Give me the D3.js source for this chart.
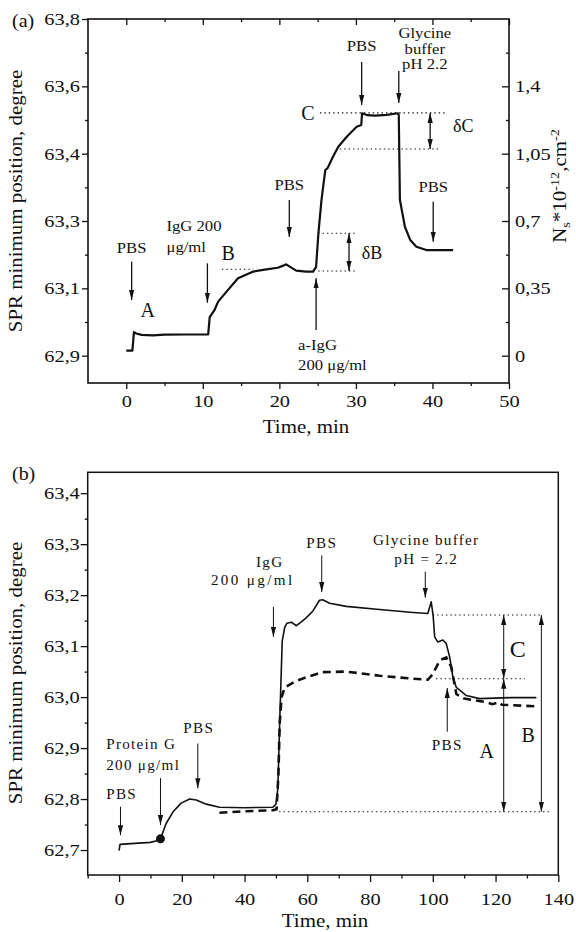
<!DOCTYPE html>
<html>
<head>
<meta charset="utf-8">
<script src="https://cdn.jsdelivr.net/npm/d3@7"></script>
<style>
  body { margin: 0; background: #fff; }
  svg text { font-family: 'Liberation Serif', 'Times New Roman', serif; fill: #111; }
</style>
</head>
<body>
<svg id="chart" width="576" height="932"></svg>
<script>
// ---- panel (a) data: time (min) vs surface concentration (right axis units)
var timeA = [0, 0.8, 1.0, 1.3, 2, 3.5, 5, 8, 10.7, 10.9, 11.5, 12.0, 13.1, 14.6, 16.6, 18.3, 19.8, 20.5, 20.9, 21.4, 22.2, 23.5, 24.4, 24.8, 25.1, 25.5, 26.0, 26.3, 27.0, 27.7, 28.8, 30.1, 30.7, 30.8, 31.5, 32.5, 34, 35.5, 35.6, 35.75, 36.4, 37.1, 37.9, 39.2, 42.7]
var nsA = [0.026, 0.026, 0.122, 0.115, 0.108, 0.106, 0.109, 0.110, 0.111, 0.200, 0.235, 0.281, 0.333, 0.402, 0.437, 0.449, 0.457, 0.468, 0.475, 0.462, 0.442, 0.437, 0.437, 0.462, 0.636, 0.809, 0.965, 0.975, 1.034, 1.086, 1.138, 1.190, 1.199, 1.260, 1.250, 1.248, 1.252, 1.260, 1.250, 0.809, 0.670, 0.601, 0.566, 0.549, 0.549]

var xTicksA = [0, 10, 20, 30, 40, 50]
var xMinorA = [5, 15, 25, 35, 45]
var leftTicksA = [0, 0.35, 0.7, 1.05, 1.4, 1.75]
var leftTickLabelsA = ['62,9', '63,1', '63,3', '63,4', '63,6', '63,8']
var rightTicksA = [0, 0.35, 0.7, 1.05, 1.4]
var rightTickLabelsA = ['0', '0,35', '0,7', '1,05', '1,4']
var yMinorA = [0.175, 0.525, 0.875, 1.225, 1.575]

// ---- panel (b) data
var timeB = [0, 0.3, 5, 10, 12, 13.2, 15.0, 17.2, 19.8, 22.5, 24.6, 27.8, 32.0, 40, 49.0, 50.0, 50.6, 51.2, 51.7, 52.0, 52.8, 53.5, 54.9, 56.5, 58, 59.7, 61.8, 63.9, 64.9, 67.1, 72.4, 83, 93.7, 98.4, 99.5, 100.1, 100.6, 101.6, 103.2, 104.3, 105.4, 106.4, 107.5, 110.7, 114.9, 125, 133]
var solidB = [62.699, 62.711, 62.713, 62.715, 62.718, 62.722, 62.752, 62.775, 62.792, 62.800, 62.798, 62.790, 62.784, 62.783, 62.784, 62.790, 62.820, 62.950, 63.050, 63.110, 63.137, 63.145, 63.147, 63.140, 63.147, 63.156, 63.169, 63.190, 63.191, 63.184, 63.178, 63.172, 63.166, 63.164, 63.187, 63.160, 63.118, 63.108, 63.112, 63.105, 63.078, 63.039, 63.019, 63.003, 62.997, 62.999, 62.999]
var timeBDash = [32.0, 40, 49, 50.2, 50.8, 51.2, 51.8, 52.8, 56.5, 59.7, 62.8, 64.9, 72.4, 83, 93.7, 98.4, 100, 102.2, 104.3, 105.9, 107.5, 110, 117, 119, 121, 122, 125.7, 132.7]
var dashB = [62.773, 62.776, 62.778, 62.780, 62.850, 62.950, 63.000, 63.019, 63.032, 63.039, 63.045, 63.049, 63.050, 63.042, 63.036, 63.034, 63.045, 63.072, 63.078, 63.059, 63.006, 62.997, 62.990, 62.986, 62.990, 62.985, 62.984, 62.982]

var xTicksB = [0, 20, 40, 60, 80, 100, 120, 140]
var xMinorB = [-10, 10, 30, 50, 70, 90, 110, 130]
var yTicksB = [62.7, 62.8, 62.9, 63.0, 63.1, 63.2, 63.3, 63.4]
var yMinorB = [62.75, 62.85, 62.95, 63.05, 63.15, 63.25, 63.35]

// annotations, in data units: [t, from, to]
var arrowsA = [[0.7, 0.489, 0.289], [10.6, 0.480, 0.275], [21.3, 0.809, 0.617], [24.8, 0.134, 0.402],
  [30.75, 1.526, 1.303], [35.6, 1.480, 1.313], [40.1, 0.800, 0.592]]
var bothArrowsA = [[29.1, 0.636, 0.440], [39.7, 1.262, 1.074]]
var dottedA = [[12.5, 16.6, 0.449], [25.07, 29.9, 0.636], [25.07, 29.9, 0.440], [25.3, 41.9, 1.262], [27.9, 41.0, 1.074]]
var labelsA = [
  ['PBS', 0.7, 0.532, 'middle', 0], ['A', 2.8, 0.203, 'middle', 1],
  ['IgG 200', 5.25, 0.650, 'start', 0], ['\u03bcg/ml', 5.25, 0.540, 'start', 0],
  ['B', 12.45, 0.497, 'start', 1], ['PBS', 21.3, 0.861, 'middle', 0],
  ['a-IgG', 22.45, 0.030, 'start', 0], ['200 \u03bcg/ml', 22.45, -0.074, 'start', 0],
  ['\u03b4B', 30.75, 0.505, 'start', 2], ['PBS', 30.75, 1.585, 'middle', 0],
  ['Glycine', 39.0, 1.651, 'middle', 0], ['buffer', 39.0, 1.568, 'middle', 0], ['pH 2.2', 39.0, 1.490, 'middle', 0],
  ['C', 24.6, 1.226, 'end', 1], ['\u03b4C', 42.7, 1.163, 'start', 2], ['PBS', 40.1, 0.852, 'middle', 0]
]

var arrowsB = [[0.45, 62.785, 62.729], [13.2, 62.841, 62.749], [25.1, 62.909, 62.821], [49.2, 63.177, 63.118],
  [64.6, 63.278, 63.206], [97.6, 63.246, 63.195], [104.6, 62.932, 63.018]]
var bothArrowsB = [[122.6, 63.161, 63.036], [122.6, 63.036, 62.775], [134.6, 63.161, 62.775]]
var dottedB = [[100, 134.6, 63.161], [101, 129.3, 63.036], [51, 137.5, 62.775]]
var labelsB = [
  ['PBS', -4.1, 62.801, 'start', 0], ['Protein G', -4.1, 62.899, 'start', 0], ['200 \u03bcg/ml', -4.1, 62.857, 'start', 0],
  ['PBS', 25.4, 62.929, 'middle', 0], ['IgG', 48.0, 63.256, 'middle', 0], ['200 \u03bcg/ml', 42.6, 63.220, 'middle', 0, 2.2],
  ['PBS', 64.6, 63.292, 'middle', 0], ['Glycine buffer', 97.9, 63.299, 'middle', 0], ['pH = 2.2', 97.9, 63.262, 'middle', 0],
  ['PBS', 104.6, 62.896, 'middle', 0], ['C', 124.5, 63.078, 'start', 3], ['A', 117.2, 62.880, 'middle', 1], ['B', 130.4, 62.912, 'middle', 1]
]
var dotB = [13.2, 62.722]

var svg = d3.select('#chart')

// arrow head
svg.append('defs').append('marker')
  .attr('id', 'head')
  .attr('viewBox', '0 -3 10 6')
  .attr('refX', 10).attr('refY', 0)
  .attr('markerUnits', 'userSpaceOnUse')
  .attr('markerWidth', 10).attr('markerHeight', 6)
  .attr('orient', 'auto-start-reverse')
  .append('path').attr('d', 'M0,-2.6L10,0L0,2.6Z').attr('fill', '#111')

// text that is a bit wider than the font, like the scanned figure
function txt(g, x, y, str, size, anchor, sx, rot) {
  return g.append('text')
    .attr('transform', 'translate(' + x + ',' + y + ')' + (rot ? ' rotate(' + rot + ')' : '') + ' scale(' + sx + ',1)')
    .attr('font-size', size)
    .attr('text-anchor', anchor)
    .text(str)
}

function styleTicks(g, size, sx, xoff) {
  g.select('.domain').remove()
  g.selectAll('line').attr('stroke', '#111').attr('stroke-width', 1.3)
  g.selectAll('text').attr('font-size', size).attr('fill', '#111')
    .attr('font-family', 'Liberation Serif')
    .attr('transform', 'scale(' + sx + ',1)')
  if (xoff != null) g.selectAll('text').attr('x', xoff / sx)
}

function addAnnotations(g, x, y, arrows, both, dotted, labels, o) {
  dotted.forEach(function(d) {
    g.append('line').attr('x1', x(d[0])).attr('x2', x(d[1])).attr('y1', y(d[2])).attr('y2', y(d[2]))
      .attr('stroke', '#111').attr('stroke-width', 1.1).attr('stroke-dasharray', '1.4,3')
  })
  arrows.forEach(function(d) {
    g.append('line').attr('x1', x(d[0])).attr('x2', x(d[0])).attr('y1', y(d[1])).attr('y2', y(d[2]))
      .attr('stroke', '#111').attr('stroke-width', o.aw).attr('marker-end', 'url(#head)')
  })
  both.forEach(function(d) {
    g.append('line').attr('x1', x(d[0])).attr('x2', x(d[0])).attr('y1', y(d[1])).attr('y2', y(d[2]))
      .attr('stroke', '#111').attr('stroke-width', o.aw)
      .attr('marker-end', 'url(#head)').attr('marker-start', 'url(#head)')
  })
  labels.forEach(function(d) {
    var t = txt(g, x(d[1]), y(d[2]), d[0], o.sizes[d[4]], d[3], d[4] ? 1 : o.sx)
    if (!d[4] && (o.ls || d[5])) t.attr('letter-spacing', d[5] || o.ls)
  })
}

// ================= panel (a)
var xA = d3.scaleLinear().domain([-5, 50]).range([88, 509])
var yA = d3.scaleLinear().domain([-0.142, 1.75]).range([383, 19])
var gA = svg.append('g')

gA.append('g').attr('transform', 'translate(0,383)')
  .call(d3.axisBottom(xA).tickValues(xTicksA).tickSize(6).tickPadding(6).tickFormat(d3.format('d')))
  .call(styleTicks, 17, 1.2)
gA.append('g').attr('transform', 'translate(0,383)')
  .call(d3.axisBottom(xA).tickValues(xMinorA).tickSize(3).tickFormat(''))
  .call(styleTicks, 17, 1)
gA.append('g').attr('transform', 'translate(0,19)')
  .call(d3.axisTop(xA).tickValues(xTicksA).tickSize(-6).tickFormat(''))
  .call(styleTicks, 17, 1)
gA.append('g').attr('transform', 'translate(0,19)')
  .call(d3.axisTop(xA).tickValues(xMinorA).tickSize(-3).tickFormat(''))
  .call(styleTicks, 17, 1)
gA.append('g').attr('transform', 'translate(88,0)')
  .call(d3.axisLeft(yA).tickValues(leftTicksA).tickSize(6).tickFormat(function(d, i) { return leftTickLabelsA[i] }))
  .call(styleTicks, 17, 1.2, -8)
gA.append('g').attr('transform', 'translate(88,0)')
  .call(d3.axisLeft(yA).tickValues(yMinorA).tickSize(3).tickFormat(''))
  .call(styleTicks, 17, 1)
gA.append('g').attr('transform', 'translate(509,0)')
  .call(d3.axisRight(yA).tickValues(rightTicksA).tickSize(-7).tickFormat(function(d, i) { return rightTickLabelsA[i] }))
  .call(styleTicks, 17, 1.2, 6)
gA.append('g').attr('transform', 'translate(509,0)')
  .call(d3.axisRight(yA).tickValues(yMinorA).tickSize(-3).tickFormat(''))
  .call(styleTicks, 17, 1)

gA.append('rect').attr('x', 88).attr('y', 19).attr('width', 421).attr('height', 364)
  .attr('fill', 'none').attr('stroke', '#111').attr('stroke-width', 1.6)

var lineA = d3.line().x(function(d) { return xA(d[0]) }).y(function(d) { return yA(d[1]) })
gA.append('path').datum(d3.zip(timeA, nsA)).attr('d', lineA)
  .attr('fill', 'none').attr('stroke', '#111').attr('stroke-width', 2.2).attr('stroke-linejoin', 'round')

addAnnotations(gA, xA, yA, arrowsA, bothArrowsA, dottedA, labelsA, {aw: 1.3, sx: 1.15, sizes: [14.5, 20, 18, 22]})

txt(gA, 12, 27, '(a)', 19, 'start', 1.05)
txt(gA, 306, 433, 'Time, min', 19, 'middle', 1.1)
txt(gA, 22, 201, 'SPR minimum position, degree', 19, 'middle', 1.1, -90)
var rt = gA.append('text')
  .attr('transform', 'translate(566,186) rotate(-90) scale(1.1,1)')
  .attr('font-size', 19).attr('text-anchor', 'middle')
rt.append('tspan').text('N')
rt.append('tspan').attr('font-size', 13).attr('dy', 4).text('s')
rt.append('tspan').attr('dy', -4).text('*10')
rt.append('tspan').attr('font-size', 13).attr('dy', -7).text('-12')
rt.append('tspan').attr('dy', 7).text(',cm')
rt.append('tspan').attr('font-size', 13).attr('dy', -7).text('-2')

// ================= panel (b)
var xB = d3.scaleLinear().domain([-10, 140]).range([87.7, 558.3])
var yB = d3.scaleLinear().domain([62.651, 63.441]).range([875, 472.3])
var gB = svg.append('g')
var fmtB = function(d) { return d3.format('.1f')(d).replace('.', ',') }

gB.append('g').attr('transform', 'translate(0,875)')
  .call(d3.axisBottom(xB).tickValues(xTicksB).tickSize(7).tickPadding(11).tickFormat(d3.format('d')))
  .call(styleTicks, 17, 1.2)
gB.append('g').attr('transform', 'translate(0,875)')
  .call(d3.axisBottom(xB).tickValues(xMinorB).tickSize(3.5).tickFormat(''))
  .call(styleTicks, 17, 1)
gB.append('g').attr('transform', 'translate(87.7,0)')
  .call(d3.axisLeft(yB).tickValues(yTicksB).tickSize(7).tickFormat(fmtB))
  .call(styleTicks, 17, 1.2, -8)
gB.append('g').attr('transform', 'translate(87.7,0)')
  .call(d3.axisLeft(yB).tickValues(yMinorB).tickSize(3).tickFormat(''))
  .call(styleTicks, 17, 1)

gB.append('rect').attr('x', 87.7).attr('y', 472.3).attr('width', 470.6).attr('height', 402.7)
  .attr('fill', 'none').attr('stroke', '#111').attr('stroke-width', 1.5)

var lineB = d3.line().x(function(d) { return xB(d[0]) }).y(function(d) { return yB(d[1]) })
gB.append('path').datum(d3.zip(timeB, solidB)).attr('d', lineB)
  .attr('fill', 'none').attr('stroke', '#111').attr('stroke-width', 1.6).attr('stroke-linejoin', 'round')
gB.append('path').datum(d3.zip(timeBDash, dashB)).attr('d', lineB)
  .attr('fill', 'none').attr('stroke', '#111').attr('stroke-width', 2.6).attr('stroke-dasharray', '8,5')
gB.append('circle').attr('cx', xB(dotB[0])).attr('cy', yB(dotB[1])).attr('r', 4.5).attr('fill', '#111')

addAnnotations(gB, xB, yB, arrowsB, bothArrowsB, dottedB, labelsB, {aw: 1, sx: 1.08, ls: 1.2, sizes: [14, 20, 18, 24]})

txt(gB, 12, 480, '(b)', 19, 'start', 1.05)
txt(gB, 325, 927, 'Time, min', 19, 'middle', 1.1)
txt(gB, 22, 673, 'SPR minimum position, degree', 19, 'middle', 1.1, -90)
</script>
</body>
</html>
